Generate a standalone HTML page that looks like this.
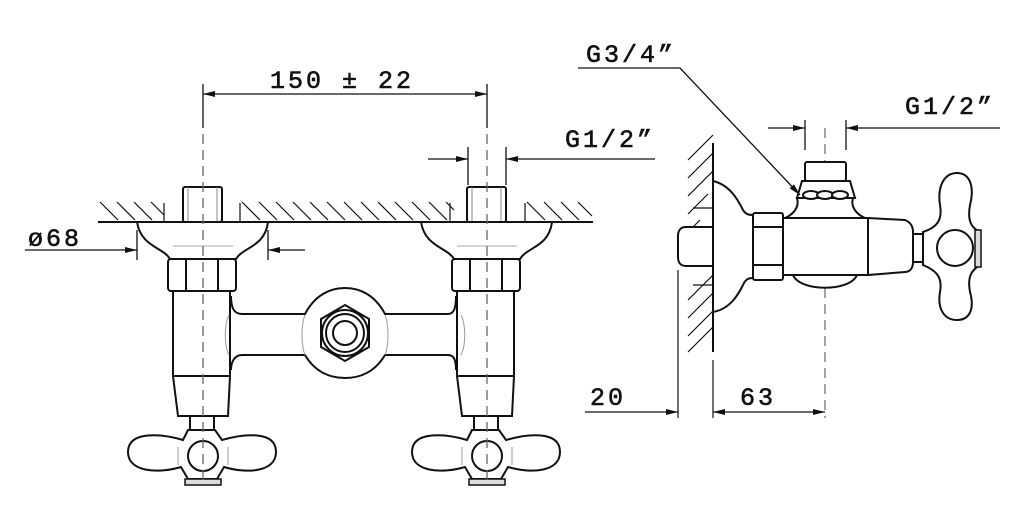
<!DOCTYPE html>
<html><head><meta charset="utf-8"><style>
html,body{margin:0;padding:0;background:#fff;}
svg{display:block}
text{font-family:"Liberation Mono",monospace;font-size:25px;letter-spacing:3px;fill:#111;stroke:#111;stroke-width:0.6px;}
</style></head><body>
<svg width="1024" height="514" viewBox="0 0 1024 514" xmlns="http://www.w3.org/2000/svg">
<defs>
<marker id="a" viewBox="0 0 12 6" refX="12" refY="3" markerWidth="12" markerHeight="6" orient="auto-start-reverse" markerUnits="userSpaceOnUse"><path d="M0,0 L12,3 L0,6z" fill="#111"/></marker>
<g id="valve" fill="#fff" stroke="#111" stroke-width="2">
  <rect x="-20" y="-35" width="39" height="35" rx="2"/>
  <line x1="-15" y1="-35" x2="-15" y2="0" stroke-width="1" stroke="#888"/>
  <line x1="14" y1="-35" x2="14" y2="0" stroke-width="1" stroke="#888"/>
  <path d="M-66,0 C-62,25 -40,25 -33,37 L-33,37 L33,37 C40,25 62,25 65,0 Z"/>
  <line x1="-30" y1="24" x2="30" y2="24" stroke="#aaa" stroke-width="1"/>
  <rect x="-35" y="37" width="68" height="32" rx="3"/>
  <line x1="-17" y1="37" x2="-17" y2="69"/><line x1="15" y1="37" x2="15" y2="69"/>
  <rect x="-30" y="69" width="57" height="85"/>
  <path d="M-30,154 L27,154 L25,194 L-25,194 Z"/>
  <rect x="-13" y="194" width="24" height="14"/>
  <path d="M-15,208 L-20,218 C-40,212 -75,208 -75,230 C-75,250 -45,252 -22,245 L-15,257 L14,257 L21,245 C44,252 73,250 73,230 C73,208 40,212 19,218 L12,208 Z"/>
  <circle cx="0" cy="234" r="15"/>
  <rect x="-18" y="257" width="36" height="6" fill="#ddd" stroke-width="1.5"/>
  <line x1="-25" y1="225" x2="-25" y2="243" stroke="#999" stroke-width="1"/>
  <line x1="25" y1="225" x2="25" y2="243" stroke="#999" stroke-width="1"/>
</g>
</defs>

<g stroke="#111" stroke-width="1.5" fill="none">
  <line x1="98" y1="222" x2="593" y2="222" stroke-width="2"/>
  <g stroke-width="1.2">
    <path d="M100,202 l18,18 M117,202 l18,18 M134,202 l18,18 M151,202 l13,13
      M242,202 l18,18 M259,202 l18,18 M276,202 l18,18 M293,202 l18,18 M310,202 l18,18 M327,202 l18,18 M344,202 l18,18 M361,202 l18,18 M378,202 l18,18 M395,202 l18,18 M412,202 l18,18 M429,202 l18,18 M446,202 l8,8
      M527,202 l18,18 M544,202 l18,18 M561,202 l18,18 M578,202 l14,14"/>
    <path d="M164,203 v19 M240,203 v19 M450,203 v19 M525,203 v19"/>
  </g>
</g>
<use href="#valve" x="203" y="222"/>
<use href="#valve" x="487" y="222"/>
<g fill="#fff" stroke="#111" stroke-width="2">
  <path d="M231,296 C231,308 234,314 242,314 L305,314 C315,295 330,288 345,288 C360,288 375,295 385,314 L448,314 C454,314 456,308 456,296 Z" stroke="none"/>
  <path d="M231,296 C231,308 234,314 242,314 L305,314 C315,295 330,288 345,288 C360,288 375,295 385,314 L448,314 C454,314 456,308 456,296"/>
  <path d="M231,370 C231,360 236,355 242,355 L305,355 C315,372 330,378 345,378 C360,378 375,372 385,355 L448,355 C454,355 456,360 456,370"/>
  <rect x="232" y="316" width="223" height="38" stroke="none"/>
  <polygon points="345,305 369,319 369,347 345,361 321,347 321,319"/>
  <circle cx="345" cy="333" r="23"/>
  <circle cx="345" cy="333" r="19"/>
  <circle cx="345" cy="333" r="12"/>
</g>
<g stroke="#999" stroke-width="1" fill="none">
  <path d="M229,315 C224,325 224,345 229,355 M461,315 C466,325 466,345 461,355 M305,315 C301,325 301,345 305,355 M385,315 C389,325 389,345 385,355"/>
</g>

<g stroke="#111" stroke-width="1.3" fill="none">
  <line x1="203" y1="84" x2="203" y2="128"/><line x1="487" y1="84" x2="487" y2="128"/>
  <line x1="203" y1="134" x2="203" y2="480" stroke-dasharray="10,6" stroke="#666"/>
  <line x1="487" y1="134" x2="487" y2="480" stroke-dasharray="10,6" stroke="#666"/>
  <line x1="203" y1="94" x2="487" y2="94" marker-start="url(#a)" marker-end="url(#a)"/>
  <line x1="468" y1="147" x2="468" y2="185"/><line x1="506" y1="147" x2="506" y2="185"/>
  <line x1="428" y1="159" x2="468" y2="159" marker-end="url(#a)"/>
  <line x1="655" y1="159" x2="506" y2="159" marker-end="url(#a)"/>
  <line x1="137" y1="230" x2="137" y2="260"/><line x1="268" y1="230" x2="268" y2="260"/>
  <line x1="25" y1="250" x2="137" y2="250" marker-end="url(#a)"/>
  <line x1="305" y1="250" x2="268" y2="250" marker-end="url(#a)"/>
</g>
<text x="270" y="88">150 ± 22</text>
<text x="565" y="147">G1/2”</text>
<text x="28" y="246">ø68</text>

<g stroke="#111" stroke-width="1.2" fill="none">
  <line x1="713" y1="143" x2="713" y2="352" stroke-width="2"/>
  <path d="M688,160 l25,-25 M688,178 l25,-25 M688,196 l25,-25 M688,214 l20,-20 M688,232 l12,-12
     M688,300 l25,-25 M688,318 l25,-25 M688,336 l25,-25 M688,352 l25,-25"/>
  <line x1="693" y1="208" x2="713" y2="208"/><line x1="693" y1="285" x2="713" y2="285"/>
  <line x1="678" y1="270" x2="678" y2="418"/>
  <line x1="713" y1="360" x2="713" y2="418"/>
  <line x1="825" y1="128" x2="825" y2="418" stroke-dasharray="10,6" stroke="#666"/>
</g>
<g fill="#fff" stroke="#111" stroke-width="2">
  <path d="M678,236 C678,230 681,227 686,227 L713,227 L713,266 L686,266 C681,266 678,263 678,257 Z"/>
  <path d="M713,181 C730,185 738,200 743,210 C746,215 750,215 753,215 L753,278 C750,278 746,278 743,285 C738,295 730,309 713,312 Z"/>
  <rect x="753" y="213" width="30" height="67" rx="2"/>
  <line x1="753" y1="227" x2="783" y2="227"/><line x1="753" y1="265" x2="783" y2="265"/>
  <path d="M793,275 C800,292 850,292 857,275 Z"/>
  <path d="M797,198 C800,208 792,215 785,218 L865,218 C858,215 850,208 853,198 Z"/>
  <rect x="783" y="218" width="85" height="57"/>
  <path d="M868,218 L905,220 C910,222 913,226 913,232 L913,262 C913,268 910,272 905,272 L868,275 Z"/>
  <rect x="913" y="234" width="10" height="28"/>
  <path d="M802,181 L850,181 L855,198 L797,198 Z"/>
  <ellipse cx="811" cy="195" rx="8" ry="4"/><ellipse cx="825" cy="195" rx="8" ry="4"/><ellipse cx="840" cy="195" rx="8" ry="4"/>
  <rect x="805" y="162" width="41" height="19" rx="2"/>
  <path d="M923,232 C935,228 943,222 940,205 C937,185 945,173 957,173 C969,173 975,185 970,205 C967,222 972,228 980,232 L980,265 C972,270 967,276 970,292 C975,310 969,320 957,320 C945,320 937,310 940,292 C943,276 935,270 923,265 Z"/>
  <circle cx="955" cy="248" r="18"/>
  <rect x="975" y="230" width="6" height="37" fill="#ddd" stroke-width="1.5"/>
</g>
<g stroke="#111" stroke-width="1.3" fill="none">
  <line x1="805" y1="120" x2="805" y2="150"/><line x1="846" y1="120" x2="846" y2="150"/>
  <line x1="768" y1="128" x2="805" y2="128" marker-end="url(#a)"/>
  <line x1="1000" y1="128" x2="846" y2="128" marker-end="url(#a)"/>
  <polyline points="578,68 680,68 800,195" marker-end="url(#a)" fill="none"/>
  <line x1="585" y1="412" x2="678" y2="412" marker-end="url(#a)"/>
  <line x1="713" y1="412" x2="825" y2="412" marker-start="url(#a)" marker-end="url(#a)"/>
</g>
<text x="586" y="62">G3/4”</text>
<text x="905" y="114">G1/2”</text>
<text x="590" y="405">20</text>
<text x="740" y="405">63</text>
</svg>
</body></html>
